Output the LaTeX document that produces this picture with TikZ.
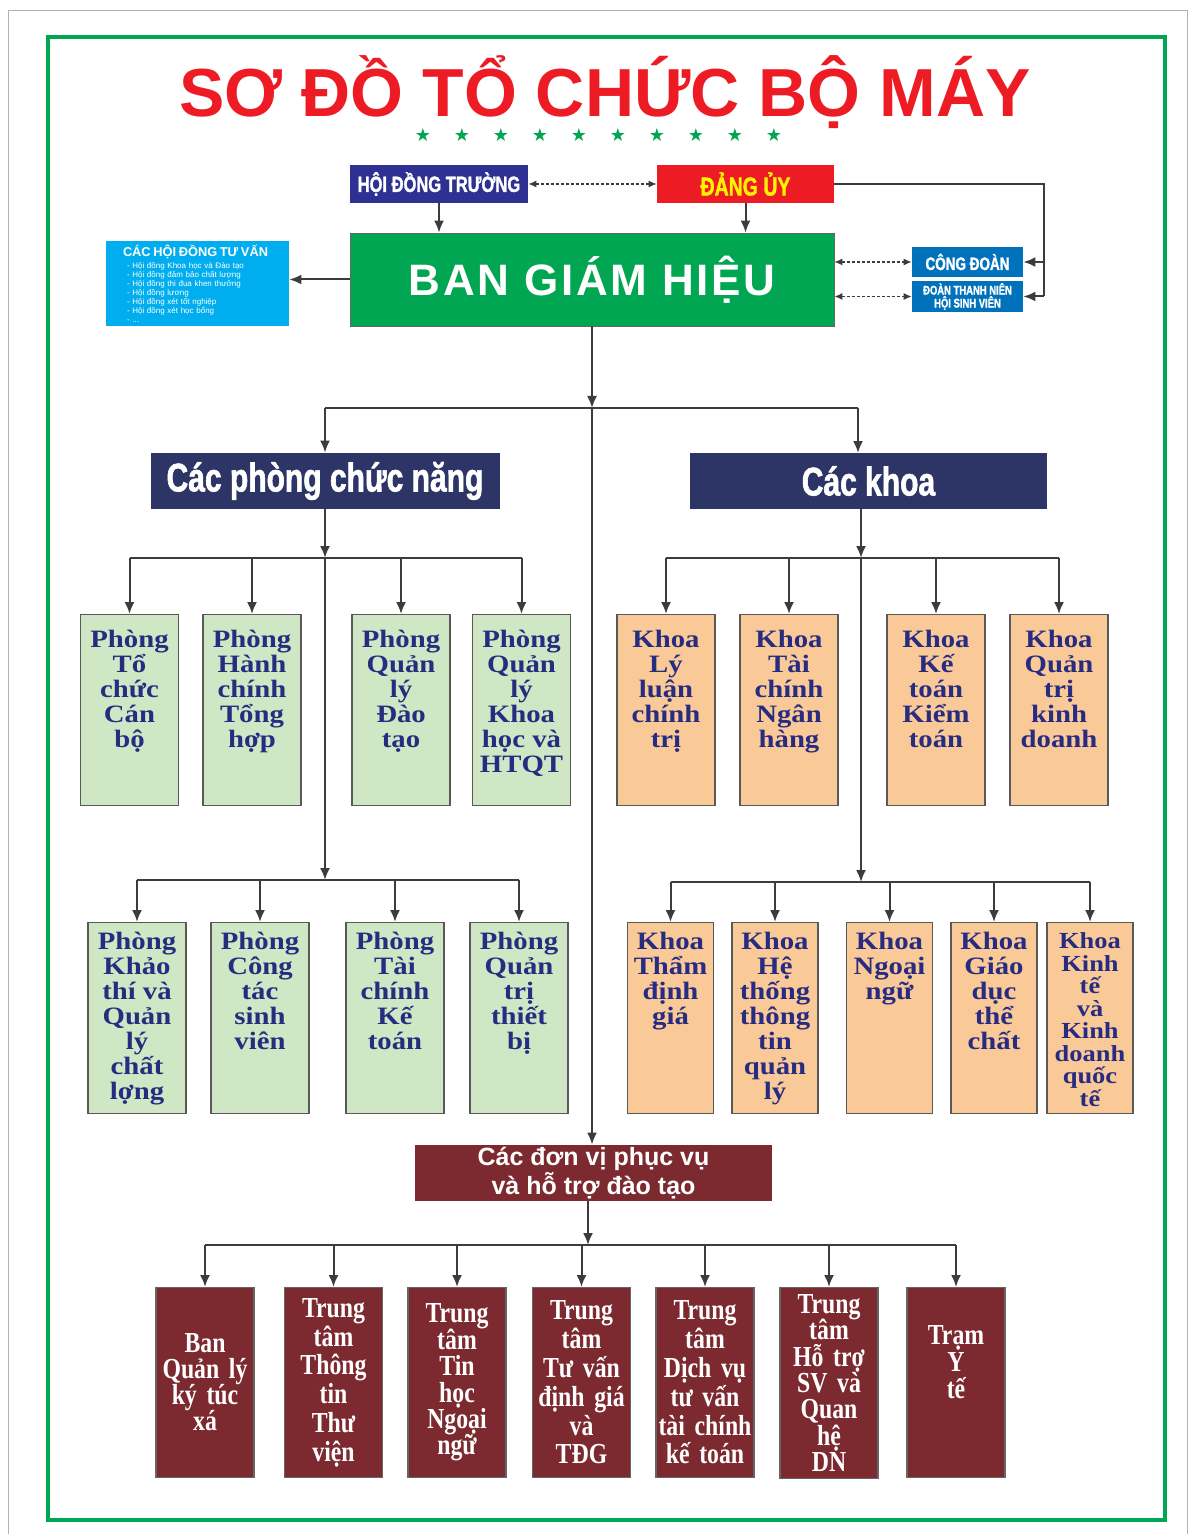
\documentclass[tikz,border=0pt]{standalone}
\usepackage{fontspec}
\setmainfont{Liberation Serif}
\newfontfamily\hdfont{Liberation Sans}
\newfontfamily\wdfont{Liberation Sans}[LetterSpace=6]
\newfontfamily\cdfont{Liberation Sans}[FakeStretch=0.75,FakeBold=1.5]
\newfontfamily\nsfont{Liberation Serif}[FakeStretch=0.82]
\newfontfamily\wsfont{Liberation Serif}[FakeStretch=1.15]
\newfontfamily\symfont{DejaVu Sans}
\usetikzlibrary{arrows.meta}
\definecolor{titlered}{RGB}{237,28,36}
\definecolor{framegreen}{RGB}{0,166,81}
\definecolor{hdtblue}{RGB}{46,49,146}
\definecolor{dauyellow}{RGB}{255,242,0}
\definecolor{tvcyan}{RGB}{0,174,239}
\definecolor{cdblue}{RGB}{0,114,188}
\definecolor{headnavy}{RGB}{44,53,102}
\definecolor{pgreen}{RGB}{207,231,196}
\definecolor{korange}{RGB}{250,201,152}
\definecolor{dvred}{RGB}{124,42,48}
\definecolor{txtblue}{RGB}{40,44,128}
\definecolor{linegray}{RGB}{60,60,60}
\newcommand{\tightlines}{\setlength{\lineskiplimit}{-20pt}}
\NewDocumentCommand{\toptext}{O{48pt} O{0pt} m}{\parbox[t][87.5pt][t]{#1}{\vspace*{#2}\centering #3}}

\begin{document}
\begin{tikzpicture}[x=0.5pt,y=-0.5pt,
  arr/.style={draw=linegray,line width=1pt,-{Latex[length=6pt,width=5pt]}},
  darr/.style={draw=linegray,line width=0.6pt,dash pattern=on 1.5pt off 1pt,
    {Latex[length=4pt,width=3.5pt]}-{Latex[length=4pt,width=3.5pt]}},
  link/.style={draw=linegray,line width=1pt},
  gbox/.style={draw=black!65,line width=0.6pt,fill=pgreen,text=txtblue,anchor=north,
    inner xsep=0.5pt,inner ysep=4pt,font=\wsfont\bfseries\fontsize{12.5}{12.5}\selectfont\tightlines},
  kbox/.style={gbox,fill=korange},
  dbox/.style={draw=black!60,line width=0.6pt,fill=dvred,text=white,anchor=north,
    minimum width=49pt,minimum height=95pt,text width=49pt,inner xsep=0pt,align=center,
    font=\nsfont\bfseries\fontsize{14.5}{#1}\selectfont\tightlines},
  dbox/.default=13,
  headbox/.style={fill=headnavy,text=white,minimum width=174.5pt,minimum height=28pt,
    font=\cdfont\bfseries\fontsize{20}{22}\selectfont}]
\useasboundingbox (0,0) rectangle (1189,1534);
% page and frame
\draw[black!30] (8,1534) -- (8,10) -- (1187,10) -- (1187,1534);
\draw[framegreen,line width=2pt] (48,37) rectangle (1165,1520);
\node[text=titlered,font=\hdfont\bfseries\fontsize{34}{40}\selectfont] (title) at (605,92) {SƠ ĐỒ TỔ CHỨC BỘ MÁY};
\foreach \i in {0,...,9}
  \node[text=framegreen,font=\symfont\fontsize{9}{9}\selectfont] (star\i) at (423+39*\i,135) {★};

% top level
\node[fill=hdtblue,text=white,minimum width=89pt,minimum height=19pt,font=\cdfont\bfseries\fontsize{11}{12}\selectfont] (hdt) at (439,184) {HỘI ĐỒNG TRƯỜNG};
\node[fill=titlered,text=dauyellow,minimum width=88.5pt,minimum height=19pt,font=\cdfont\bfseries\fontsize{13}{14}\selectfont] (du) at (745.5,184) {ĐẢNG ỦY};
\node[fill=framegreen,draw=black!60,text=white,minimum width=242pt,minimum height=46.5pt,font=\wdfont\bfseries\fontsize{22}{24}\selectfont] (bgh) at (592,279.5) {BAN GIÁM HIỆU};
\node[fill=tvcyan,text=white,minimum width=91.5pt,minimum height=42.5pt,text width=84pt,align=left,inner sep=1pt,font=\hdfont\fontsize{4}{4.5}\selectfont] (hdtv) at (197.5,283.5)
  {\hspace*{4.75pt}{\bfseries\fontsize{6.4}{6.4}\selectfont CÁC HỘI ĐỒNG TƯ VẤN}\\[1.5pt]
   \hspace*{6.75pt}- Hội đồng Khoa học và Đào tạo\\
   \hspace*{6.75pt}- Hội đồng đảm bảo chất lượng\\
   \hspace*{6.75pt}- Hội đồng thi đua khen thưởng\\
   \hspace*{6.75pt}- Hội đồng lương\\
   \hspace*{6.75pt}- Hội đồng xét tốt nghiệp\\
   \hspace*{6.75pt}- Hội đồng xét học bổng\\
   \hspace*{6.75pt}- ...};
\node[fill=cdblue,text=white,minimum width=55.5pt,minimum height=14pt,font=\cdfont\bfseries\fontsize{9}{10}\selectfont] (cd) at (967.5,262) {CÔNG ĐOÀN};
\node[fill=cdblue,text=white,minimum width=55.5pt,minimum height=14.5pt,inner ysep=1pt,align=center,font=\cdfont\bfseries\fontsize{6.3}{6.5}\selectfont\tightlines] (dtn) at (967.5,296.5) {ĐOÀN THANH NIÊN\\HỘI SINH VIÊN};

\draw[darr] (hdt.east) -- (du.west);
\draw[arr] (hdt.south) -- (hdt.south |- bgh.north);
\draw[arr] (du.south) -- (du.south |- bgh.north);
\draw[arr] (bgh.west) -- (bgh.west -| hdtv.east);
\draw[darr] (bgh.east |- cd.west) -- (cd.west);
\draw[darr] (bgh.east |- dtn.west) -- (dtn.west);
\coordinate (dturn) at (1044,184);
\draw[link] (du.east) -- (dturn) -- (dturn |- dtn.east);
\draw[arr] (dturn |- cd.east) -- (cd.east);
\draw[arr] (dturn |- dtn.east) -- (dtn.east);

% second level
\node[headbox] (phong) at (325,481) {Các phòng chức năng};
\node[headbox,minimum width=178.5pt] (khoa) at (868.5,481) {Các khoa};
\node[headbox,fill=dvred,minimum width=178.5pt,inner ysep=1pt,align=center,font=\hdfont\bfseries\fontsize{12.5}{13}\selectfont] (dv) at (593.5,1173) {Các đơn vị phục vụ\\và hỗ trợ đào tạo};

\coordinate (tbus) at (592,408);
\draw[arr] (bgh.south) -- (tbus);
\draw[link] (phong.north |- tbus) -- (858,408);
\draw[arr] (phong.north |- tbus) -- (phong.north);
\draw[arr] (858,408) -- (858,453);
\draw[arr] (tbus) -- (tbus |- dv.north);

% phong chuc nang
\foreach \x/\n/\lbl in {129.5/g1/{Phòng\\Tổ\\chức\\Cán\\bộ}, 252/g2/{Phòng\\Hành\\chính\\Tổng\\hợp},
    401/g3/{Phòng\\Quản\\lý\\Đào\\tạo}, 521.5/g4/{Phòng\\Quản\\lý\\Khoa\\học và\\HTQT}}
  \node[gbox] (\n) at (\x,614) {\toptext[48pt][4pt]{\lbl}};
\foreach \x/\n/\lbl in {137/g5/{Phòng\\Khảo\\thí và\\Quản\\lý\\chất\\lợng}, 260/g6/{Phòng\\Công\\tác\\sinh\\viên},
    395/g7/{Phòng\\Tài\\chính\\Kế\\toán}, 519/g8/{Phòng\\Quản\\trị\\thiết\\bị}}
  \node[gbox] (\n) at (\x,922) {\toptext[48pt][1pt]{\lbl}};
\coordinate (pbus1) at (325,558);
\coordinate (pbus2) at (325,880);
\draw[arr] (pbus1 |- phong.south) -- (pbus1);
\draw[arr] (pbus1) -- (pbus2);
\draw[link] (g1.north |- pbus1) -- (g4.north |- pbus1);
\draw[link] (g5.north |- pbus2) -- (g8.north |- pbus2);
\foreach \n in {g1,g2,g3,g4}
  \draw[arr] (\n.north |- pbus1) -- (\n.north);
\foreach \n in {g5,g6,g7,g8}
  \draw[arr] (\n.north |- pbus2) -- (\n.north);

% cac khoa
\foreach \x/\n/\lbl in {666/k1/{Khoa\\Lý\\luận\\chính\\trị}, 789/k2/{Khoa\\Tài\\chính\\Ngân\\hàng},
    936/k3/{Khoa\\Kế\\toán\\Kiểm\\toán}, 1059/k4/{Khoa\\Quản\\trị\\kinh\\doanh}}
  \node[kbox] (\n) at (\x,614) {\toptext[48pt][4pt]{\lbl}};
\foreach \x/\n/\lbl in {670.5/k5/{Khoa\\Thẩm\\định\\giá}, 775/k6/{Khoa\\Hệ\\thống\\thông\\tin\\quản\\lý},
    889.5/k7/{Khoa\\Ngoại\\ngữ}, 994/k8/{Khoa\\Giáo\\dục\\thể\\chất},
    1090/k9/{\fontsize{11.5}{11.25}\selectfont Khoa\\Kinh\\tế\\và\\Kinh\\doanh\\quốc\\tế}}
  \node[kbox] (\n) at (\x,922) {\toptext[42pt][1pt]{\lbl}};
\coordinate (kbus1) at (861,558);
\coordinate (kbus2) at (861,882);
\draw[arr] (kbus1 |- khoa.south) -- (kbus1);
\draw[arr] (kbus1) -- (kbus2);
\draw[link] (k1.north |- kbus1) -- (k4.north |- kbus1);
\draw[link] (k5.north |- kbus2) -- (k9.north |- kbus2);
\foreach \n in {k1,k2,k3,k4}
  \draw[arr] (\n.north |- kbus1) -- (\n.north);
\foreach \n in {k5,k6,k7,k8,k9}
  \draw[arr] (\n.north |- kbus2) -- (\n.north);

% don vi phuc vu
\foreach \x/\n/\s/\lbl in {205/m1/13/{Ban\\Quản lý\\ký túc\\xá}, 333.5/m2/14.4/{Trung\\tâm\\Thông\\tin\\Thư\\viện},
    457/m3/13.2/{Trung\\tâm\\Tin\\học\\Ngoại\\ngữ}, 581.5/m4/14.4/{Trung\\tâm\\Tư vấn\\định giá\\và\\TĐG},
    705/m5/14.4/{Trung\\tâm\\Dịch vụ\\tư vấn\\tài chính\\kế toán}, 829/m6/13.2/{Trung\\tâm\\Hỗ trợ\\SV và\\Quan\\hệ\\DN},
    956/m7/13.5/{Trạm\\Y\\tế\\[7pt]~}}
  \node[dbox=\s] (\n) at (\x,1287) {\lbl};
\coordinate (dbus) at (588,1245);
\draw[arr] (dbus |- dv.south) -- (dbus);
\draw[link] (m1.north |- dbus) -- (m7.north |- dbus);
\foreach \n in {m1,m2,m3,m4,m5,m6,m7}
  \draw[arr] (\n.north |- dbus) -- (\n.north);
\end{tikzpicture}
\end{document}
